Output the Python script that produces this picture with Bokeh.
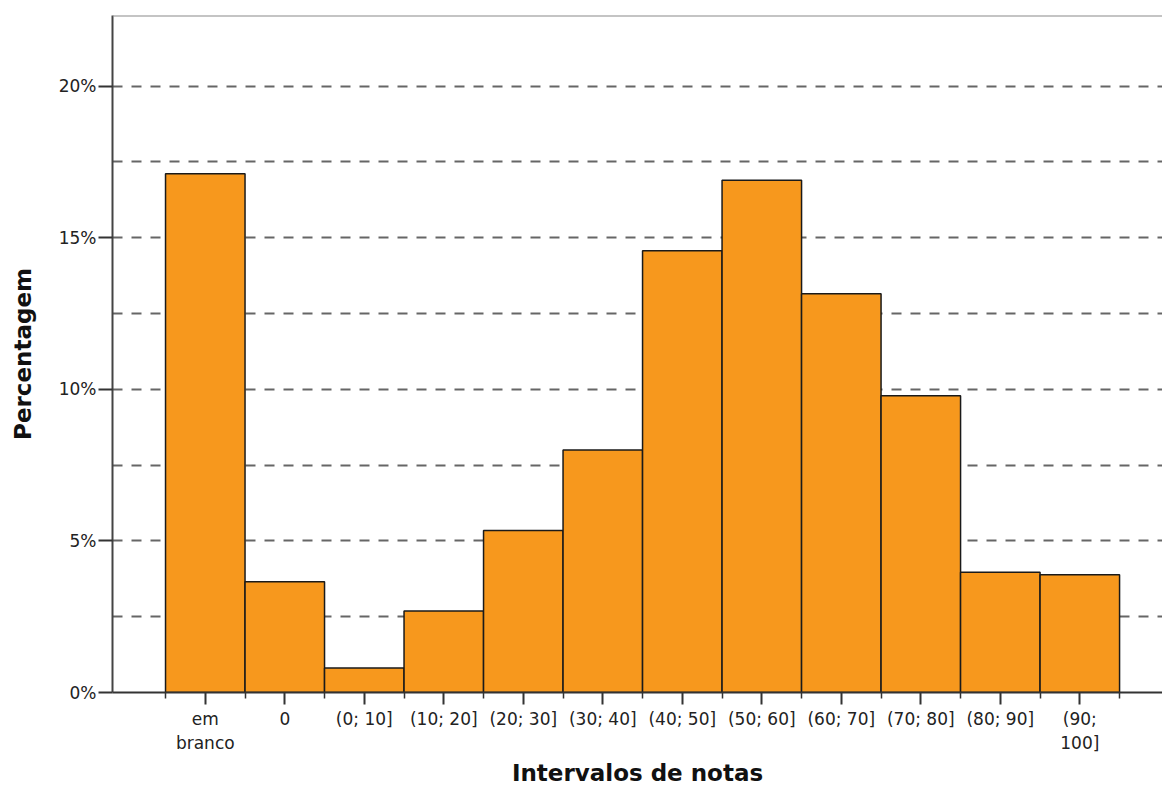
from bokeh.plotting import figure
from bokeh.models import FixedTicker, Range1d, Span
from bokeh.embed import file_html
from bokeh.resources import INLINE

categories = ["em\nbranco", "0", "(0; 10]", "(10; 20]", "(20; 30]", "(30; 40]",
              "(40; 50]", "(50; 60]", "(60; 70]", "(70; 80]", "(80; 90]", "(90;\n100]"]
percent = [17.11, 3.65, 0.81, 2.69, 5.34, 8.00, 14.57, 16.90, 13.15, 9.79, 3.97, 3.88]
y_ticks = [0, 5, 10, 15, 20]
y_tick_labels = ["0%", "5%", "10%", "15%", "20%"]
grid_ticks = [2.5, 5, 7.5, 10, 12.5, 15, 17.5, 20]

xs = list(range(len(categories)))
y_top = 22.33

p = figure(width=1162, height=788, output_backend="svg", toolbar_location=None,
           x_range=Range1d(-1.167, 12.04), y_range=Range1d(0, y_top),
           min_border_left=112, min_border_top=15, min_border_right=0, min_border_bottom=96)

p.outline_line_color = None
p.background_fill_color = "white"
p.border_fill_color = "white"

p.vbar(x=xs, top=percent, width=1.0, bottom=0, fill_color="#F7981D",
       line_color="#1a1a1a", line_width=1.5)

# top border
p.add_layout(Span(location=y_top, dimension="width", line_color="#8a8a8a", line_width=2))

# grid
p.xgrid.visible = False
p.ygrid.ticker = FixedTicker(ticks=grid_ticks)
p.ygrid.grid_line_color = "#666666"
p.ygrid.grid_line_width = 2
p.ygrid.grid_line_dash = "10 9"

# x axis
xa = p.xaxis[0]
xa.ticker = FixedTicker(ticks=xs, minor_ticks=[i - 0.5 for i in range(len(categories) + 1)])
xa.major_label_overrides = {i: c for i, c in enumerate(categories)}
xa.axis_line_color = "#333333"
xa.axis_line_width = 2
xa.major_tick_line_color = "#333333"
xa.major_tick_line_width = 2
xa.major_tick_out = 12
xa.major_tick_in = 0
xa.minor_tick_line_color = "#333333"
xa.minor_tick_line_width = 1.5
xa.minor_tick_out = 6
xa.minor_tick_in = 0
xa.major_label_text_font = "DejaVu Sans"
xa.major_label_text_font_size = "17px"
xa.major_label_text_color = "#222222"
xa.major_label_standoff = 4
xa.axis_label = "Intervalos de notas"
xa.axis_label_text_font = "DejaVu Sans"
xa.axis_label_text_font_style = "bold"
xa.axis_label_text_font_size = "23px"
xa.axis_label_text_color = "#111111"
xa.axis_label_standoff = 4

# y axis
ya = p.yaxis[0]
ya.ticker = FixedTicker(ticks=y_ticks)
ya.major_label_overrides = {t: l for t, l in zip(y_ticks, y_tick_labels)}
ya.axis_line_color = "#444444"
ya.axis_line_width = 2
ya.major_tick_line_color = "#333333"
ya.major_tick_line_width = 2
ya.major_tick_out = 14
ya.major_tick_in = 0
ya.minor_tick_line_color = None
ya.major_label_text_font = "DejaVu Sans"
ya.major_label_text_font_size = "17px"
ya.major_label_text_color = "#222222"
ya.major_label_standoff = 2
ya.axis_label = "Percentagem"
ya.axis_label_text_font = "DejaVu Sans"
ya.axis_label_text_font_style = "bold"
ya.axis_label_text_font_size = "23px"
ya.axis_label_text_color = "#111111"
ya.axis_label_standoff = 20

open("out.html", "w").write(file_html(p, INLINE))
